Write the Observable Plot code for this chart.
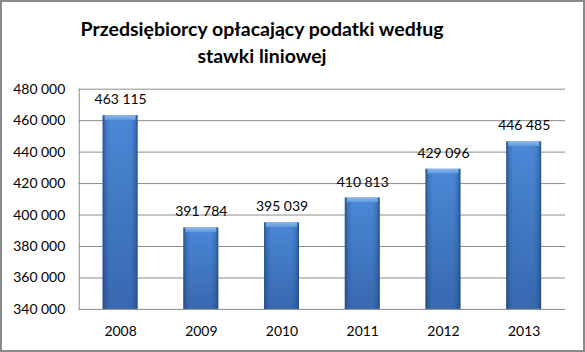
<!DOCTYPE html>
<html><head><meta charset="utf-8">
<script src="https://cdn.jsdelivr.net/npm/d3@7"></script>
<script src="https://cdn.jsdelivr.net/npm/@observablehq/plot@0.6"></script>
<style>
html,body{margin:0;padding:0;background:#fff;}
#frame{position:relative;width:585px;height:352px;box-sizing:border-box;border:2px solid #8a8a8a;overflow:hidden;background:#fff;}
#title{position:absolute;left:0;top:13px;width:520px;text-align:center;font-family:Lato,"Open Sans",sans-serif;font-weight:bold;font-size:19.5px;line-height:27px;color:#000;}
#chart{position:absolute;left:-2px;top:-2px;}
</style></head>
<body>
<div id="frame">
  <div id="chart"></div>
  <div id="title">Przedsiębiorcy opłacający podatki według<br>stawki liniowej</div>
</div>
<script>
const years = ["2008","2009","2010","2011","2012","2013"];
const values = [463115, 391784, 395039, 410813, 429096, 446485];
const yTicks = [340000, 360000, 380000, 400000, 420000, 440000, 460000, 480000];

const data = years.map((y,i)=>({year:y, value:values[i]}));
const loc = d3.formatLocale({thousands:"\u00a0", grouping:[3], decimal:","});
const fmt = loc.format(",d");

const defs = () => {
  const svgNS = "http://www.w3.org/2000/svg";
  const g = document.createElementNS(svgNS, "defs");
  g.innerHTML = `
  <linearGradient id="barV" x1="0" x2="0" y1="0" y2="1">
    <stop offset="0" stop-color="#4a88d6"/>
    <stop offset="1" stop-color="#3868b0"/>
  </linearGradient>
  <linearGradient id="barH" x1="0" x2="1" y1="0" y2="0">
    <stop offset="0" stop-color="#1c3f70" stop-opacity="0.75"/>
    <stop offset="0.08" stop-color="#1c3f70" stop-opacity="0.25"/>
    <stop offset="0.2" stop-color="#1c3f70" stop-opacity="0"/>
    <stop offset="0.8" stop-color="#1c3f70" stop-opacity="0"/>
    <stop offset="0.92" stop-color="#1c3f70" stop-opacity="0.25"/>
    <stop offset="1" stop-color="#1c3f70" stop-opacity="0.75"/>
  </linearGradient>
  <linearGradient id="topGrad" x1="0" x2="0" y1="0" y2="1">
    <stop offset="0" stop-color="#8cb8ec"/>
    <stop offset="1" stop-color="#5f97dc"/>
  </linearGradient>`;
  return g;
};

const chart = Plot.plot({
  width: 585,
  height: 352,
  marginTop: 89,
  marginBottom: 42,
  marginLeft: 79,
  marginRight: 18,
  style: {fontFamily: "Lato, 'Open Sans', sans-serif", fontSize: "14px", color: "#000", background: "transparent"},
  x: {domain: years, paddingInner: 0.57, paddingOuter: 0.285, label: null},
  y: {domain: [340000, 480000], label: null},
  marks: [
    defs,
    Plot.ruleY(yTicks, {stroke: "#8c8c8c", strokeWidth: 1}),
    Plot.frame({anchor: "left", stroke: "#8c8c8c"}),
    Plot.barY(data, {x: "year", y1: 340000, y2: "value", fill: "url(#barV)"}),
    Plot.barY(data, {x: "year", y1: 340000, y2: "value", fill: "url(#barH)"}),
    Plot.rectY(data, {x: "year", y1: d => d.value - 3000, y2: "value", fill: "url(#topGrad)", insetLeft: 2, insetRight: 2}),
    Plot.text(data, {x: "year", y: "value", text: d => fmt(d.value), dy: -16, fill: "#000", fontSize: 14}),
    Plot.axisY({ticks: yTicks, tickFormat: fmt, tickSize: 0, tickPadding: 14, fontSize: 14, fill: "#000"}),
    Plot.axisX({tickSize: 0, tickPadding: 17, fontSize: 14, fill: "#000"})
  ]
});
document.getElementById("chart").appendChild(chart);
</script>
</body></html>
